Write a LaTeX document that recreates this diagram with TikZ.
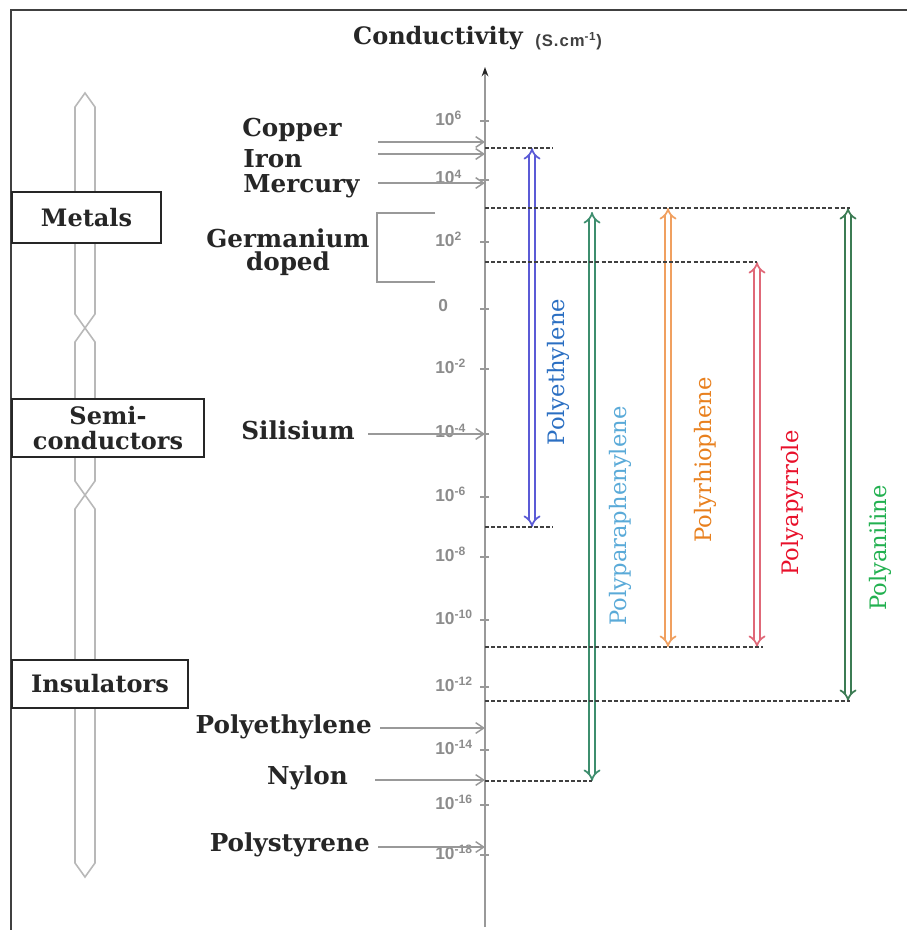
\documentclass[tikz,border=0pt]{standalone}
\usepackage{fontspec}
\setmainfont{DejaVu Serif}
\setsansfont{Liberation Sans}
\usetikzlibrary{arrows.meta}
\definecolor{pecol}{HTML}{5B5BD6}
\definecolor{pelbl}{HTML}{2B6FC2}
\definecolor{pppcol}{HTML}{3E8E6E}
\definecolor{ppplbl}{HTML}{5AAAD8}
\definecolor{ptcol}{HTML}{F0A060}
\definecolor{ptlbl}{HTML}{E8801E}
\definecolor{ppycol}{HTML}{E06878}
\definecolor{ppylbl}{HTML}{E8102A}
\definecolor{pacol}{HTML}{3C7C54}
\definecolor{palbl}{HTML}{22B050}
\begin{document}
\begin{tikzpicture}[x=0.75pt,y=-0.75pt,
  lbl/.style={font=\bfseries\fontsize{18.5}{17}\selectfont, text=black!85, inner sep=0pt, align=center},
  axtick/.style={draw=black!40, line width=1pt},
  ticklbl/.style={font=\sffamily\bfseries\fontsize{13}{13}\selectfont, text=black!45, anchor=west, inner sep=0pt},
  ptr/.style={draw=black!40, line width=1.1pt, -{Straight Barb[length=6pt,width=8pt]}},
  catbox/.style={draw=black!85, line width=1.4pt, fill=white, inner sep=0pt, font=\bfseries\fontsize{18}{18.75}\selectfont, text=black!85, align=center},
  hollow/.style={draw=black!28, line width=1.2pt},
  dashline/.style={draw=black!75, line width=1.1pt, dash pattern=on 3pt off 1.6pt},
  rangearrow/.style={double=white, double distance=3pt, line width=1.3pt, {Implies[scale=1.4]}-{Implies[scale=1.4]}},
  rlbl/.style={font=\fontsize{17}{17}\selectfont, rotate=90, inner sep=0pt}
]
\useasboundingbox (0,0) rectangle (907,930);

% frame
\draw[black!75, line width=1.8pt] (11,930) -- (11,10) -- (907,10);

% hollow category arrows
\draw[hollow] (85,93) -- (95,107) -- (95,314) -- (85,328) -- (75,314) -- (75,107) -- cycle;
\draw[hollow] (85,328) -- (95,342) -- (95,481) -- (85,495) -- (75,481) -- (75,342) -- cycle;
\draw[hollow] (85,495) -- (95,509) -- (95,863) -- (85,877) -- (75,863) -- (75,509) -- cycle;

% category boxes
\node[catbox, minimum width=111.75pt, minimum height=38.25pt] (metals) at (86.5,217.5) {Metals};
\node[catbox, minimum width=144pt, minimum height=43.5pt] (semi) at (108,428) {Semi-\\conductors};
\node[catbox, minimum width=132pt, minimum height=36pt] (insul) at (100,684) {Insulators};

% axis
\coordinate (axB) at (485,927);
\coordinate (axT) at (485,67);
\draw[black!40, line width=1.5pt, -{Stealth[length=7pt,width=5pt,color=black!85]}] (axB) -- (axT);
\node[font=\bfseries\fontsize{18}{18}\selectfont, text=black!85, inner sep=0pt] (title) at (438,38) {Conductivity};
\node[font=\sffamily\bfseries\fontsize{12.5}{12.5}\selectfont\addfontfeatures{LetterSpace=6}, text=black!75, inner sep=0pt, anchor=west] (unit) at (535,41) {(S.cm\textsuperscript{-1})};

% ticks and labels
\foreach \yy/\ee [count=\i] in {121/6,180/4,242/2,369/-2,434/-4,497/-6,557/-8,620/-10,687/-12,750/-14,805/-16,855/-18}{
  \draw[axtick] (480,\yy) -- (489,\yy);
  \node[ticklbl] (tl\i) at (435,\yy-3) {10\textsuperscript{\ee}};
}
\draw[axtick] (480,309) -- (489,309);
\node[ticklbl] (tl0) at (438,306) {0};

% material labels
\node[lbl, anchor=west] (copper) at (242,130) {Copper};
\node[lbl, anchor=west] (iron) at (243,159) {Iron};
\node[lbl, anchor=west] (mercury) at (243,186) {Mercury};
\node[lbl] (germ) at (288,252) {Germanium\\doped};
\node[lbl] (sil) at (298,430) {Silisium};
\node[lbl, anchor=east] (pey) at (372,727) {Polyethylene};
\node[lbl, anchor=east] (nylon) at (348,778) {Nylon};
\node[lbl, anchor=east] (pst) at (370,845) {Polystyrene};

% pointers
\coordinate (cuS) at (378,142); \coordinate (cuE) at (485,142);
\coordinate (feS) at (378,154); \coordinate (feE) at (485,154);
\coordinate (hgS) at (378,183); \coordinate (hgE) at (485,183);
\coordinate (siS) at (368,434); \coordinate (siE) at (485,434);
\coordinate (peS) at (380,728); \coordinate (peE) at (485,728);
\coordinate (nyS) at (375,780); \coordinate (nyE) at (485,780);
\coordinate (psS) at (378,847); \coordinate (psE) at (485,847);
\draw[ptr] (cuS) -- (cuE);
\draw[ptr] (feS) -- (feE);
\draw[ptr] (hgS) -- (hgE);
\draw[ptr] (siS) -- (siE);
\draw[ptr] (peS) -- (peE);
\draw[ptr] (nyS) -- (nyE);
\draw[ptr] (psS) -- (psE);

% germanium bracket
\coordinate (geA) at (435,213); \coordinate (geB) at (377,213);
\coordinate (geC) at (377,282); \coordinate (geD) at (435,282);
\draw[black!40, line width=1.1pt] (geA) -- (geB) -- (geC) -- (geD);

% polymer range arrows
\coordinate (peT) at (532,148); \coordinate (peB) at (532,527);
\coordinate (ppT) at (592,212); \coordinate (ppB) at (592,781);
\coordinate (ptT) at (668,208); \coordinate (ptB) at (668,647);
\coordinate (pyT) at (757,262); \coordinate (pyB) at (757,647);
\coordinate (paT) at (848,208); \coordinate (paB) at (848,701);
\draw[rangearrow, draw=pecol] (peT) -- (peB);
\draw[rangearrow, draw=pppcol] (ppT) -- (ppB);
\draw[rangearrow, draw=ptcol] (ptT) -- (ptB);
\draw[rangearrow, draw=ppycol] (pyT) -- (pyB);
\draw[rangearrow, draw=pacol] (paT) -- (paB);

% dashed guide lines
\coordinate (d1a) at (485,148); \coordinate (d1b) at (553,148);
\coordinate (d2a) at (485,208); \coordinate (d2b) at (850,208);
\coordinate (d3a) at (485,262); \coordinate (d3b) at (757,262);
\coordinate (d4a) at (485,527); \coordinate (d4b) at (553,527);
\coordinate (d5a) at (485,647); \coordinate (d5b) at (763,647);
\coordinate (d6a) at (485,701); \coordinate (d6b) at (850,701);
\coordinate (d7a) at (485,781); \coordinate (d7b) at (592,781);
\draw[dashline] (d1a) -- (d1b);
\draw[dashline] (d2a) -- (d2b);
\draw[dashline] (d3a) -- (d3b);
\draw[dashline] (d4a) -- (d4b);
\draw[dashline] (d5a) -- (d5b);
\draw[dashline] (d6a) -- (d6b);
\draw[dashline] (d7a) -- (d7b);

% polymer labels
\node[rlbl, text=pelbl] (lpe) at (558,372) {Polyethylene};
\node[rlbl, text=ppplbl] (lpp) at (620,516) {Polyparaphenylene};
\node[rlbl, text=ptlbl] (lpt) at (705,460) {Polyrhiophene};
\node[rlbl, text=ppylbl] (lpy) at (792,503) {Polyapyrrole};
\node[rlbl, text=palbl] (lpa) at (880,548) {Polyaniline};
\end{tikzpicture}
\end{document}
